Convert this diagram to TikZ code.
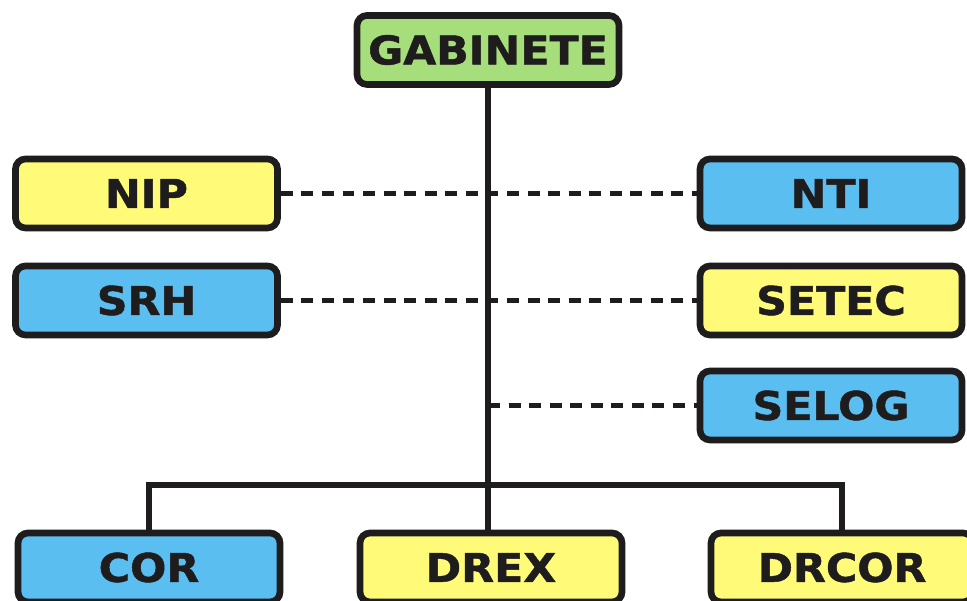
\documentclass[tikz,border=0pt]{standalone}
\usepackage{fontspec}
\usepackage{tikz}
\usepackage{xcolor}
\newfontfamily\boxfont[FakeStretch=1.08,FakeBold=1.2]{DejaVu Sans Bold}

\definecolor{gabgreen}{RGB}{165,222,122}
\definecolor{unityellow}{RGB}{255,251,120}
\definecolor{unitblue}{RGB}{91,190,240}
\definecolor{inkdark}{RGB}{30,28,28}

\tikzset{
  unitbox/.style={draw=inkdark, line width=3.8pt, rounded corners=0.2cm,
    minimum width=5.24cm, minimum height=1.38cm, inner sep=0pt,
    text=inkdark, font=\boxfont\fontsize{22.5}{22.5}\selectfont},
  solidlink/.style={draw=inkdark, line width=3.1pt},
  dashlink/.style={draw=inkdark, line width=2.8pt, dash pattern=on 6.8pt off 4.9pt}
}

\begin{document}
\begin{tikzpicture}
    \clip (0,0) rectangle (19.34,12.02);
    \fill[white] (0,0) rectangle (19.34,12.02);

    \node[unitbox, fill=gabgreen] (gab) at (9.76,11.02) {GABINETE};
    \node[unitbox, fill=unityellow] (nip) at (2.93,8.15) {NIP};
    \node[unitbox, fill=unitblue] (srh) at (2.93,6.01) {SRH};
    \node[unitbox, fill=unitblue] (nti) at (16.62,8.15) {NTI};
    \node[unitbox, fill=unityellow] (setec) at (16.62,6.01) {SETEC};
    \node[unitbox, fill=unitblue] (selog) at (16.62,3.91) {SELOG};
    \node[unitbox, fill=unitblue] (cor) at (2.98,0.67) {COR};
    \node[unitbox, fill=unityellow] (drex) at (9.82,0.67) {DREX};
    \node[unitbox, fill=unityellow] (drcor) at (16.84,0.67) {DRCOR};

    \coordinate (bar) at (9.76,2.32);

    % staff units (dashed)
    \draw[dashlink] (nip.east) -- (nti.west);
    \draw[dashlink] (srh.east) -- (setec.west);
    \draw[dashlink] (gab |- selog) -- (selog.west);

    % line of command
    \draw[solidlink] (gab.south) -- (bar);
    \draw[solidlink] (cor.north) |- (bar) -| (drcor.north);
    \draw[solidlink] (bar) -- (bar |- drex.north);
\end{tikzpicture}
\end{document}
